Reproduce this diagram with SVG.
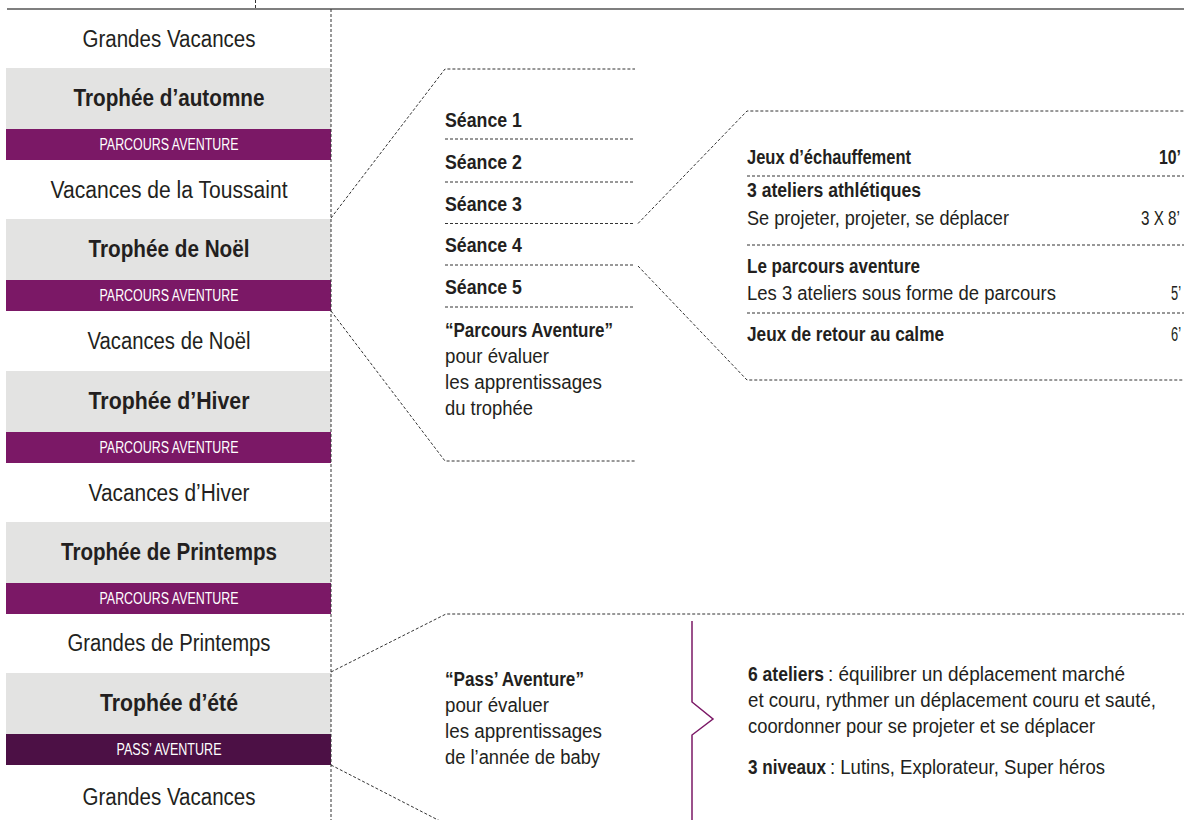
<svg xmlns="http://www.w3.org/2000/svg" width="1184" height="820" viewBox="0 0 1184 820">
<style>
text{font-family:"Liberation Sans",Arial,sans-serif;fill:#231f20}
.b{font-weight:bold}
.lbl{font-size:23.5px;text-anchor:middle}
.bar{font-size:16px;fill:#ffffff;text-anchor:middle}
.t{font-size:19.5px}
.end{text-anchor:end}
.gray{fill:#e3e3e2}
.pur{fill:#7b1866}
.dpur{fill:#4c1045}
.dash{stroke:#333333;stroke-width:1;stroke-dasharray:3 2;fill:none}
</style>
<rect width="1184" height="820" fill="#ffffff"/>

<g id="column">
  <g id="row-grandes-vacances-1"><text class="lbl" x="169" y="47" textLength="173" lengthAdjust="spacingAndGlyphs">Grandes Vacances</text></g>
  <g id="trophee-automne">
    <rect class="gray" x="6" y="68" width="325" height="61"/>
    <text class="lbl b" x="169" y="106" textLength="191" lengthAdjust="spacingAndGlyphs">Trophée d’automne</text>
    <rect class="pur" x="6" y="129" width="325" height="31"/>
    <text class="bar" x="169" y="150" textLength="139" lengthAdjust="spacingAndGlyphs">PARCOURS AVENTURE</text>
  </g>
  <g id="row-toussaint"><text class="lbl" x="169" y="198" textLength="237" lengthAdjust="spacingAndGlyphs">Vacances de la Toussaint</text></g>
  <g id="trophee-noel">
    <rect class="gray" x="6" y="219" width="325" height="61"/>
    <text class="lbl b" x="169" y="257" textLength="161" lengthAdjust="spacingAndGlyphs">Trophée de Noël</text>
    <rect class="pur" x="6" y="280" width="325" height="31"/>
    <text class="bar" x="169" y="301" textLength="139" lengthAdjust="spacingAndGlyphs">PARCOURS AVENTURE</text>
  </g>
  <g id="row-vacances-noel"><text class="lbl" x="169" y="349" textLength="163" lengthAdjust="spacingAndGlyphs">Vacances de Noël</text></g>
  <g id="trophee-hiver">
    <rect class="gray" x="6" y="371" width="325" height="61"/>
    <text class="lbl b" x="169" y="409" textLength="161" lengthAdjust="spacingAndGlyphs">Trophée d’Hiver</text>
    <rect class="pur" x="6" y="432" width="325" height="31"/>
    <text class="bar" x="169" y="453" textLength="139" lengthAdjust="spacingAndGlyphs">PARCOURS AVENTURE</text>
  </g>
  <g id="row-vacances-hiver"><text class="lbl" x="169" y="501" textLength="161" lengthAdjust="spacingAndGlyphs">Vacances d’Hiver</text></g>
  <g id="trophee-printemps">
    <rect class="gray" x="6" y="522" width="325" height="61"/>
    <text class="lbl b" x="169" y="560" textLength="216" lengthAdjust="spacingAndGlyphs">Trophée de Printemps</text>
    <rect class="pur" x="6" y="583" width="325" height="31"/>
    <text class="bar" x="169" y="604" textLength="139" lengthAdjust="spacingAndGlyphs">PARCOURS AVENTURE</text>
  </g>
  <g id="row-grandes-printemps"><text class="lbl" x="169" y="651" textLength="203" lengthAdjust="spacingAndGlyphs">Grandes de Printemps</text></g>
  <g id="trophee-ete">
    <rect class="gray" x="6" y="673" width="325" height="61"/>
    <text class="lbl b" x="169" y="711" textLength="138" lengthAdjust="spacingAndGlyphs">Trophée d’été</text>
    <rect class="dpur" x="6" y="734" width="325" height="31"/>
    <text class="bar" x="169" y="755" textLength="105" lengthAdjust="spacingAndGlyphs">PASS’ AVENTURE</text>
  </g>
  <g id="row-grandes-vacances-2"><text class="lbl" x="169" y="805" textLength="173" lengthAdjust="spacingAndGlyphs">Grandes Vacances</text></g>
</g>

<g id="seances">
  <text class="t b" x="445" y="127" textLength="77" lengthAdjust="spacingAndGlyphs">Séance 1</text>
  <text class="t b" x="445" y="169" textLength="77" lengthAdjust="spacingAndGlyphs">Séance 2</text>
  <text class="t b" x="445" y="211" textLength="77" lengthAdjust="spacingAndGlyphs">Séance 3</text>
  <text class="t b" x="445" y="252" textLength="77" lengthAdjust="spacingAndGlyphs">Séance 4</text>
  <text class="t b" x="445" y="294" textLength="77" lengthAdjust="spacingAndGlyphs">Séance 5</text>
  <text class="t b" x="445" y="337" textLength="168" lengthAdjust="spacingAndGlyphs">“Parcours Aventure”</text>
  <text class="t" x="445" y="363" textLength="104" lengthAdjust="spacingAndGlyphs">pour évaluer</text>
  <text class="t" x="445" y="389" textLength="157" lengthAdjust="spacingAndGlyphs">les apprentissages</text>
  <text class="t" x="445" y="415" textLength="88" lengthAdjust="spacingAndGlyphs">du trophée</text>
</g>

<g id="seance-detail">
  <text class="t b" x="747" y="164" textLength="164" lengthAdjust="spacingAndGlyphs">Jeux d’échauffement</text>
  <text class="t b end" x="1181" y="164" textLength="22" lengthAdjust="spacingAndGlyphs">10’</text>
  <text class="t b" x="747" y="197" textLength="174" lengthAdjust="spacingAndGlyphs">3 ateliers athlétiques</text>
  <text class="t" x="747" y="225" textLength="262" lengthAdjust="spacingAndGlyphs">Se projeter, projeter, se déplacer</text>
  <text class="t" transform="translate(1141 225) scale(0.78 1)" x="0" y="0">3 X 8’</text>
  <text class="t b" x="747" y="273" textLength="173" lengthAdjust="spacingAndGlyphs">Le parcours aventure</text>
  <text class="t" x="747" y="300" textLength="309" lengthAdjust="spacingAndGlyphs">Les 3 ateliers sous forme de parcours</text>
  <text class="t end" x="1181" y="300" textLength="10" lengthAdjust="spacingAndGlyphs">5’</text>
  <text class="t b" x="747" y="341" textLength="197" lengthAdjust="spacingAndGlyphs">Jeux de retour au calme</text>
  <text class="t end" x="1181" y="341" textLength="10" lengthAdjust="spacingAndGlyphs">6’</text>
</g>

<g id="pass-aventure">
  <text class="t b" x="445" y="686" textLength="139" lengthAdjust="spacingAndGlyphs">“Pass’ Aventure”</text>
  <text class="t" x="445" y="712" textLength="104" lengthAdjust="spacingAndGlyphs">pour évaluer</text>
  <text class="t" x="445" y="738" textLength="157" lengthAdjust="spacingAndGlyphs">les apprentissages</text>
  <text class="t" x="445" y="764" textLength="155" lengthAdjust="spacingAndGlyphs">de l’année de baby</text>
</g>

<g id="pass-detail">
  <path d="M692 621 V702 L713 719 L692 735 V820" fill="none" stroke="#7b1866" stroke-width="1.5"/>
  <text class="t b" x="748" y="681" textLength="76" lengthAdjust="spacingAndGlyphs">6 ateliers</text>
  <text class="t" x="828" y="681" textLength="297" lengthAdjust="spacingAndGlyphs">: équilibrer un déplacement marché</text>
  <text class="t" x="748" y="707" textLength="408" lengthAdjust="spacingAndGlyphs">et couru, rythmer un déplacement couru et sauté,</text>
  <text class="t" x="748" y="733" textLength="347" lengthAdjust="spacingAndGlyphs">coordonner pour se projeter et se déplacer</text>
  <text class="t b" x="748" y="774" textLength="78" lengthAdjust="spacingAndGlyphs">3 niveaux</text>
  <text class="t" x="830" y="774" textLength="275" lengthAdjust="spacingAndGlyphs">: Lutins, Explorateur, Super héros</text>
</g>

<g id="connectors">
  <line x1="7" y1="9" x2="1184" y2="9" stroke="#555555" stroke-width="1.5"/>
  <line class="dash" x1="255.5" y1="0" x2="255.5" y2="9"/>
  <line class="dash" x1="331" y1="9" x2="331" y2="820"/>
  <polyline class="dash" points="331,218 445,69 635,69"/>
  <polyline class="dash" points="331,311 445,461 635,461"/>
  <line class="dash" x1="445" y1="139" x2="635" y2="139"/>
  <line class="dash" x1="445" y1="182" x2="635" y2="182"/>
  <line class="dash" x1="445" y1="223.5" x2="635" y2="223.5"/>
  <line class="dash" x1="445" y1="265" x2="635" y2="265"/>
  <line class="dash" x1="445" y1="307" x2="635" y2="307"/>
  <polyline class="dash" points="638,223.5 747,111 1184,111"/>
  <polyline class="dash" points="638,266 747,380 1184,380"/>
  <line class="dash" x1="747" y1="176" x2="1184" y2="176"/>
  <line class="dash" x1="747" y1="245" x2="1184" y2="245"/>
  <line class="dash" x1="747" y1="313" x2="1184" y2="313"/>
  <polyline class="dash" points="331,672 446,614 1184,614"/>
  <line class="dash" x1="331" y1="765" x2="440" y2="821"/>
</g>
</svg>
